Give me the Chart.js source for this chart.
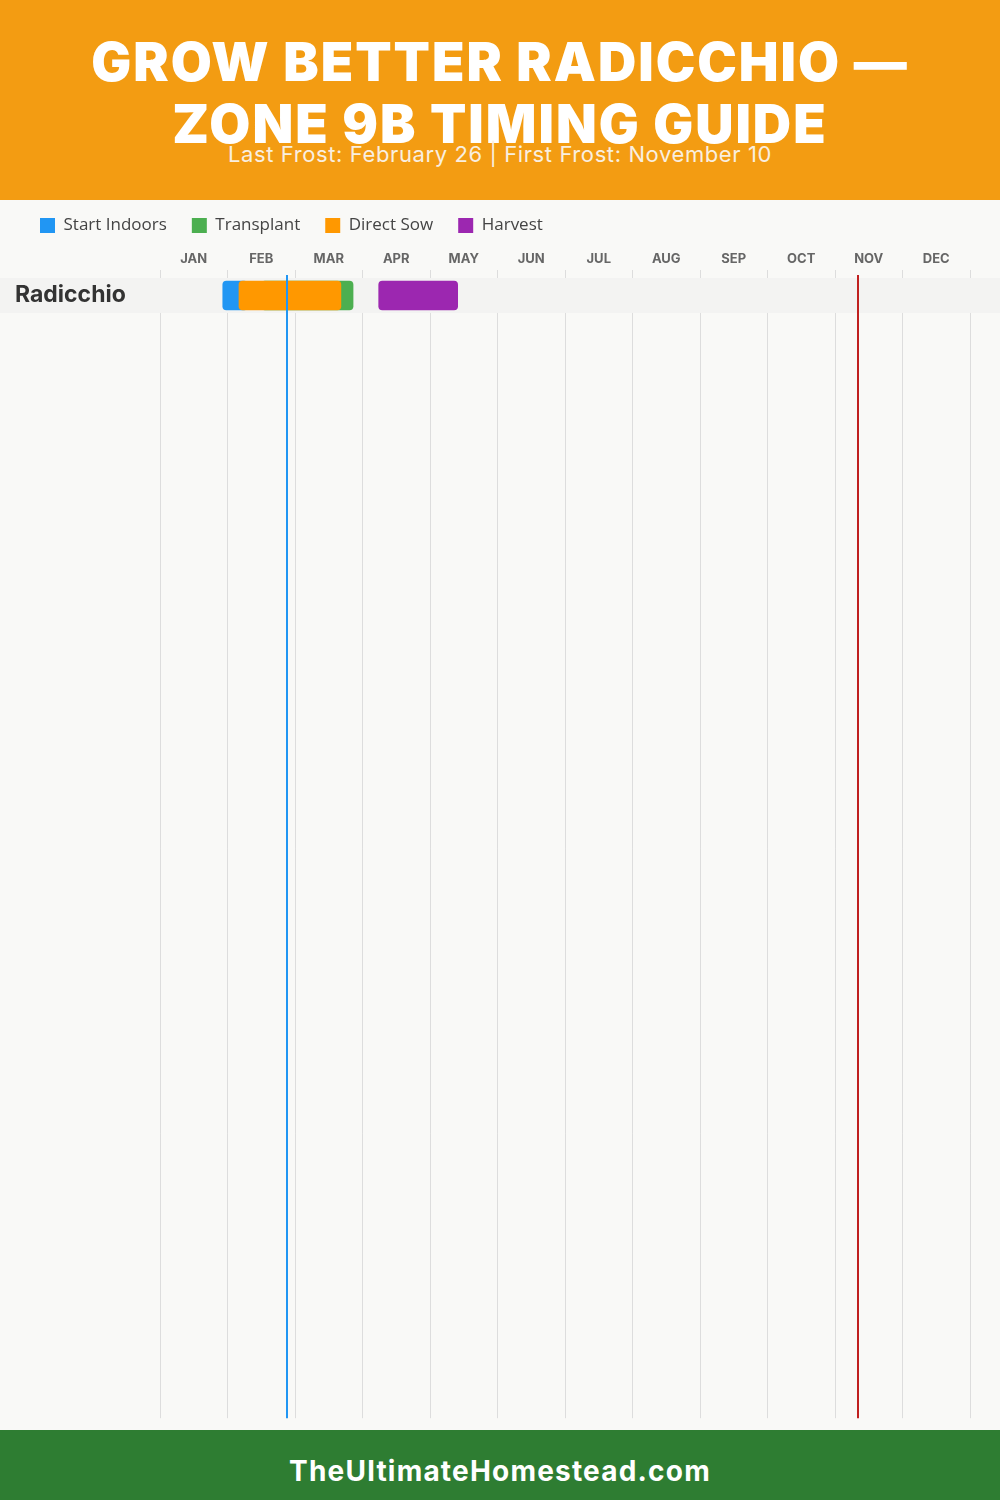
<!DOCTYPE html>
<html>
<head>
<meta charset="utf-8">
<script src="https://cdn.jsdelivr.net/npm/chart.js@4"></script>
<style>
  body { margin: 0; width: 1000px; height: 1500px; background: #f9f9f7; font-family: Inter, "Open Sans", sans-serif; position: relative; overflow: hidden; }
  .head { position: absolute; left: 0; top: 0; width: 1000px; height: 200px; background: #f39c12; text-align: center; color: #fff; z-index: 2; }
  .head h1 { margin: 0; position: absolute; left: 0; width: 1000px; top: 31px; font-size: 53px; font-weight: 900; line-height: 62px; letter-spacing: 2px; }
  .head p { margin: 0; position: absolute; left: 0; width: 1000px; top: 141px; font-size: 22px; color: #f9efe0; line-height: 26px; letter-spacing: 0.6px; }
  .wrap { position: absolute; left: 0; top: 192px; width: 1000px; height: 1243px; z-index: 1; }
  .foot { position: absolute; left: 0; top: 1430px; width: 1000px; height: 70px; background: #2e7d32; color: #fff; text-align: center; font-size: 28px; font-weight: 700; line-height: 82px; letter-spacing: 1.2px; z-index: 2; }
</style>
</head>
<body>
<div class="head">
  <h1>GROW BETTER RADICCHIO —<br>ZONE 9B TIMING GUIDE</h1>
  <p>Last Frost: February 26 | First Frost: November 10</p>
</div>
<div class="wrap"><canvas id="grafica"></canvas></div>
<div class="foot">TheUltimateHomestead.com</div>
<script>
var crops = ['Radicchio'];
var months = ['JAN', 'FEB', 'MAR', 'APR', 'MAY', 'JUN', 'JUL', 'AUG', 'SEP', 'OCT', 'NOV', 'DEC'];
// month values: 0 = Jan 1, 12 = end of Dec
var startIndoors = [[0.93, 1.3]];
var transplant = [[1.5, 2.86]];
var directSow = [[1.17, 2.68]];
var harvest = [[3.24, 4.41]];
var lastFrost = 1.88;   // Feb 26
var firstFrost = 10.34; // Nov 10

var rowsVisible = 1142 / 35;

function serie(nombre, valores, color, orden) {
  return {
    label: nombre,
    data: valores.map(function(v, i) { return { x: v, y: i + 0.5 }; }),
    backgroundColor: color,
    borderWidth: 0,
    borderRadius: 4,
    borderSkipped: false,
    barThickness: 29,
    grouped: false,
    order: orden
  };
}

var fondoFila = {
  id: 'fondoFila',
  beforeDatasetsDraw: function(chart) {
    var ctx = chart.ctx, y = chart.scales.y;
    ctx.save();
    ctx.fillStyle = '#f3f3f2';
    for (var i = 0; i < crops.length; i++) {
      var t = y.getPixelForValue(i), b = y.getPixelForValue(i + 1);
      ctx.fillRect(0, t, chart.width, b - t);
    }
    ctx.restore();
  }
};

var heladas = {
  id: 'heladas',
  afterDatasetsDraw: function(chart) {
    var ctx = chart.ctx, x = chart.scales.x, area = chart.chartArea;
    [[lastFrost, '#2196f3'], [firstFrost, '#c0201f']].forEach(function(h) {
      var px = Math.round(x.getPixelForValue(h[0]));
      ctx.save();
      ctx.strokeStyle = h[1];
      ctx.lineWidth = 2;
      ctx.beginPath();
      ctx.moveTo(px, area.top - 3);
      ctx.lineTo(px, area.bottom);
      ctx.stroke();
      ctx.restore();
    });
  }
};

window.onload = function() {
  var ctx = document.getElementById('grafica').getContext('2d');
  new Chart(ctx, {
    type: 'bar',
    data: {
      datasets: [
        serie('Start Indoors', startIndoors, '#2196f3', 3),
        serie('Transplant', transplant, '#4caf50', 2),
        serie('Direct Sow', directSow, '#ff9800', 1),
        serie('Harvest', harvest, '#9c27b0', 0)
      ]
    },
    options: {
      indexAxis: 'y',
      responsive: true,
      maintainAspectRatio: false,
      animation: false,
      layout: { padding: { left: 15, right: 30, top: 0, bottom: 0 } },
      plugins: {
        legend: {
          position: 'top',
          align: 'start',
          labels: {
            boxWidth: 15,
            boxHeight: 15,
            padding: 25,
            color: '#444',
            font: { family: 'Open Sans', size: 17 },
            sort: function(a, b) { return a.datasetIndex - b.datasetIndex; }
          }
        },
        tooltip: { enabled: false }
      },
      scales: {
        x: {
          type: 'linear',
          position: 'top',
          min: 0,
          max: 12,
          grid: { color: '#dddddd', lineWidth: 1, tickLength: 8 },
          border: { display: false },
          ticks: {
            stepSize: 1,
            autoSkip: false,
            maxRotation: 0,
            labelOffset: 33.75,
            padding: 3,
            color: '#666',
            font: { family: 'Inter', size: 13, weight: 'bold' },
            callback: function(v) { return months[v] || ''; }
          },
          afterFit: function(s) { s.height = 34; }
        },
        y: {
          type: 'linear',
          reverse: true,
          offset: false,
          min: 0,
          max: rowsVisible,
          grid: { display: false },
          border: { display: false },
          afterBuildTicks: function(s) {
            s.ticks = crops.map(function(c, i) { return { value: i + 0.5 }; });
          },
          ticks: {
            z: 1,
            crossAlign: 'far',
            color: '#333',
            font: { family: 'Inter', size: 23, weight: 'bold' },
            callback: function(v) { return crops[Math.floor(v)]; }
          },
          afterFit: function(s) { s.width = 145; }
        }
      }
    },
    plugins: [fondoFila, heladas]
  });
};
</script>
</body>
</html>
